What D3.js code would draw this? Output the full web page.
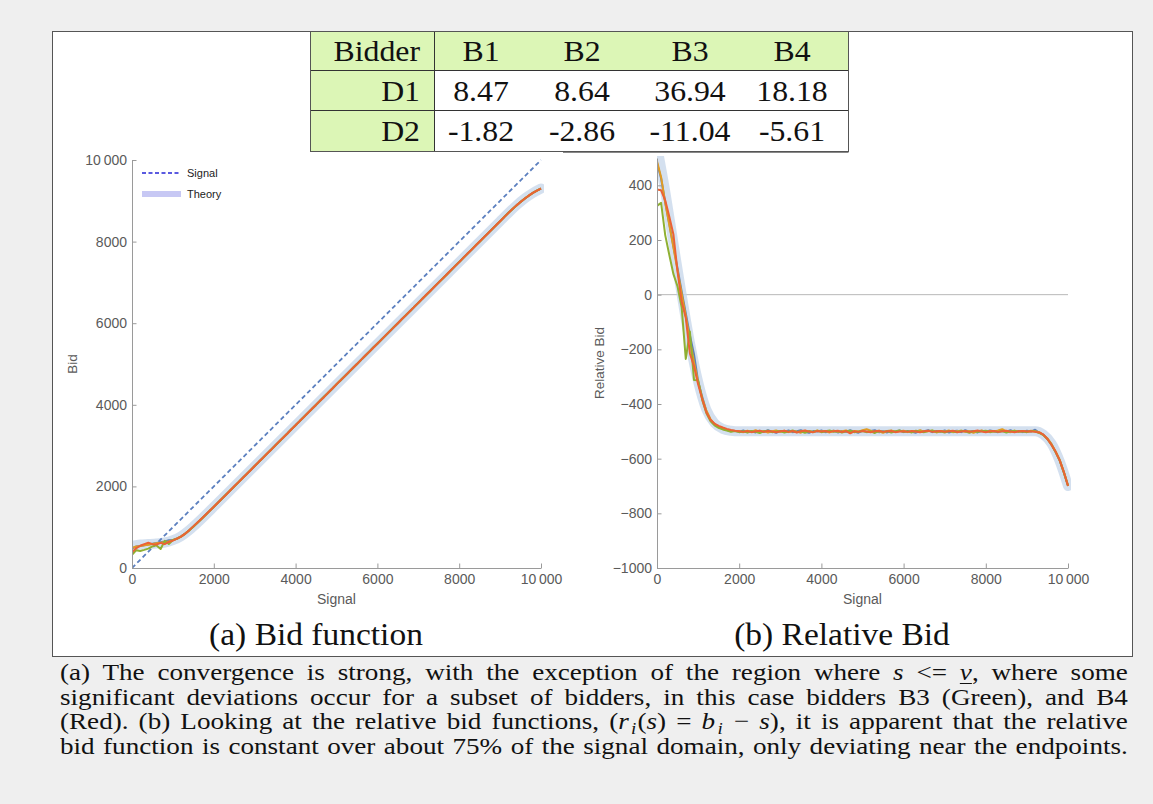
<!DOCTYPE html>
<html>
<head>
<meta charset="utf-8">
<script src="https://cdn.jsdelivr.net/npm/d3@7"></script>
<style>
  body { margin: 0; background: #efefef; width: 1153px; height: 804px; overflow: hidden; position: relative; }
  svg { position: absolute; left: 0; top: 0; }
  #cap { position: absolute; left: 60px; top: 660px; font-family: "Liberation Serif", serif;
         font-size: 24px; line-height: 24.7px; color: #111; }
  #cap div { width: 945px; transform: scaleX(1.13); transform-origin: 0 0;
             text-align: justify; text-align-last: justify; }
  #cap sub { font-size: 0.7em; vertical-align: -0.28em; line-height: 0; margin-left: 2px; margin-right: 1px; }
  #cap u { text-decoration-thickness: 1px; text-underline-offset: 3px; }
</style>
</head>
<body>
<svg id="chart" width="1153" height="804"></svg>
<div id="cap">
  <div>(a) The convergence is strong, with the exception of the region where <i>s</i> &lt;= <i><u>v</u></i>, where some</div>
  <div>significant deviations occur for a subset of bidders, in this case bidders B3 (Green), and B4</div>
  <div>(Red). (b) Looking at the relative bid functions, (<i>r</i><sub><i>i</i></sub>(<i>s</i>) = <i>b</i><sub><i>i</i></sub> &minus; <i>s</i>), it is apparent that the relative</div>
  <div>bid function is constant over about 75% of the signal domain, only deviating near the endpoints.</div>
</div>
<script>
// ---- table values ----
const bidders = ["B1", "B2", "B3", "B4"];
const rowNames = ["D1", "D2"];
const d1Values = ["8.47", "8.64", "36.94", "18.18"];
const d2Values = ["-1.82", "-2.86", "-11.04", "-5.61"];

// ---- signal grid (shared by all bidder series) ----
const signal = [
  0, 100, 200, 300, 400, 500, 600, 700, 800, 900,
  1000, 1100, 1200, 1300, 1400, 1500, 1600, 1700, 1800, 1900,
  2000, 2100, 2200, 2300, 2400, 2500, 2600, 2700, 2800, 2900,
  3000, 3100, 3200, 3300, 3400, 3500, 3600, 3700, 3800, 3900,
  4000, 4100, 4200, 4300, 4400, 4500, 4600, 4700, 4800, 4900,
  5000, 5100, 5200, 5300, 5400, 5500, 5600, 5700, 5800, 5900,
  6000, 6100, 6200, 6300, 6400, 6500, 6600, 6700, 6800, 6900,
  7000, 7100, 7200, 7300, 7400, 7500, 7600, 7700, 7800, 7900,
  8000, 8100, 8200, 8300, 8400, 8500, 8600, 8700, 8800, 8900,
  9000, 9100, 9200, 9300, 9400, 9500, 9600, 9700, 9800, 9900,
  10000
];

// ---- relative bids r_i(s) = b_i - s for each bidder ----
const relB1 = [
  482, 425, 338, 258, 176, 96, 12, -68, -148, -218,
  -316, -374, -426, -457, -474, -484, -490, -494, -497, -499,
  -501, -497, -503, -499, -504, -498, -502, -496, -501, -505,
  -499, -502, -497, -503, -500, -496, -502, -505, -499, -501,
  -497, -503, -500, -498, -504, -499, -502, -496, -501, -505,
  -498, -502, -499, -496, -503, -500, -504, -498, -501, -497,
  -503, -499, -502, -505, -498, -500, -496, -503, -499, -502,
  -497, -504, -500, -498, -503, -496, -501, -499, -504, -498,
  -502, -497, -500, -503, -499, -501, -496, -502, -499, -503,
  -498, -501, -494, -505, -512, -527, -548, -576, -606, -650,
  -698
];
const relB2 = [
  488, 430, 336, 255, 172, 88, 4, -78, -165, -248,
  -318, -378, -424, -455, -474, -485, -491, -495, -498, -499,
  -500, -503, -498, -501, -496, -502, -499, -504, -500, -497,
  -502, -498, -503, -499, -501, -505, -498, -500, -503, -497,
  -501, -499, -504, -498, -502, -500, -497, -503, -499, -501,
  -496, -492, -498, -503, -500, -505, -499, -497, -502, -500,
  -498, -503, -499, -501, -496, -502, -500, -498, -504, -499,
  -501, -497, -503, -500, -498, -502, -499, -505, -500, -497,
  -502, -499, -501, -497, -492, -500, -503, -498, -501, -499,
  -502, -498, -500, -503, -513, -526, -547, -574, -605, -648,
  -697
];
const relB3 = [
  325, 336, 218, 145, 75, 30, -46, -235, -135, -312,
  -313, -385, -433, -462, -478, -487, -493, -497, -502, -499,
  -503, -500, -504, -499, -502, -506, -500, -498, -503, -501,
  -499, -504, -501, -497, -503, -500, -505, -499, -502, -498,
  -503, -500, -497, -502, -499, -504, -500, -498, -503, -501,
  -499, -503, -500, -506, -498, -502, -499, -504, -500, -497,
  -502, -500, -504, -498, -501, -503, -499, -497, -502, -500,
  -504, -499, -501, -503, -498, -500, -505, -499, -502, -500,
  -498, -503, -500, -502, -499, -504, -500, -498, -502, -500,
  -503, -499, -501, -506, -514, -529, -550, -577, -608, -652,
  -700
];
const relB4 = [
  385, 382, 345, 285, 220, 84, -25, -85, -215, -262,
  -328, -382, -430, -458, -472, -480, -486, -491, -495, -498,
  -500, -502, -499, -503, -500, -498, -502, -499, -501, -503,
  -500, -498, -502, -499, -504, -500, -497, -501, -503, -499,
  -501, -499, -502, -500, -498, -503, -499, -507, -500, -502,
  -499, -501, -503, -500, -498, -502, -500, -499, -503, -501,
  -500, -502, -499, -501, -503, -500, -498, -502, -500, -499,
  -502, -500, -498, -503, -501, -499, -502, -500, -497, -501,
  -503, -500, -499, -502, -500, -498, -501, -503, -500, -499,
  -501, -500, -502, -504, -512, -528, -550, -575, -607, -650,
  -700
];

// ---- theoretical relative bid ----
const theorySignal = [0, 200, 400, 600, 800, 1000, 1200, 1400, 1600, 1800, 2000, 9000, 9200, 9400, 9600, 9800, 10000];
const theoryRel    = [545, 378, 188, 0, -175, -318, -420, -470, -491, -498, -500, -500, -500, -512, -545, -610, -700];

// ---- axis ticks ----
const signalTicks = [0, 2000, 4000, 6000, 8000, 10000];
const signalMinor = [500, 1000, 1500, 2500, 3000, 3500, 4500, 5000, 5500, 6500, 7000, 7500, 8500, 9000, 9500];
const bidTicks = [0, 2000, 4000, 6000, 8000, 10000];
const bidMinor = [500, 1000, 1500, 2500, 3000, 3500, 4500, 5000, 5500, 6500, 7000, 7500, 8500, 9000, 9500];
const relTicks = [-1000, -800, -600, -400, -200, 0, 200, 400];
const relMinor = [-950, -900, -850, -750, -700, -650, -550, -500, -450, -350, -300, -250, -150, -100, -50,
                  50, 100, 150, 250, 300, 350, 450, 500];

const series = [
  { name: "B1", rel: relB1, color: "#5e81b5" },
  { name: "B2", rel: relB2, color: "#e19c24" },
  { name: "B3", rel: relB3, color: "#8fb032" },
  { name: "B4", rel: relB4, color: "#eb6235" }
];

const fmt = d => d === 10000 ? "10\u2009000" : (d < 0 ? "\u2212" + Math.abs(d) : String(d));

const svg = d3.select("#chart");
const axisColor = "#9a9a9a";
const labelColor = "#5a5a5a";
const sans = "'Liberation Sans', Arial, sans-serif";
const serif = "'Liberation Serif', 'Times New Roman', serif";

// white panel holding both plots
svg.append("rect").attr("x", 52.5).attr("y", 31.5).attr("width", 1080).attr("height", 625)
  .attr("fill", "#fff").attr("stroke", "#555").attr("stroke-width", 1);

const defs = svg.append("defs");

function styleAxis(g) {
  g.selectAll("path.domain").attr("stroke", axisColor);
  g.selectAll(".tick line").attr("stroke", axisColor);
  g.selectAll(".tick text").attr("fill", labelColor).attr("font-family", sans).attr("font-size", 14);
}

function drawAxes(x, y, yTicks, yMinor, xLabel, yLabel, yLabelX) {
  const [x0, x1] = x.range();
  const [y0, y1] = y.range();
  const gx = svg.append("g").attr("transform", `translate(0,${y0})`);
  gx.call(d3.axisBottom(x).tickValues(signalMinor).tickSize(-2.5).tickFormat(""));
  gx.call(d3.axisBottom(x).tickValues(signalTicks).tickSizeInner(-4.5).tickSizeOuter(0).tickPadding(6).tickFormat(fmt));
  styleAxis(gx);
  const gy = svg.append("g").attr("transform", `translate(${x0},0)`);
  gy.call(d3.axisLeft(y).tickValues(yMinor).tickSize(-2.5).tickFormat(""));
  gy.call(d3.axisLeft(y).tickValues(yTicks).tickSizeInner(-4.5).tickSizeOuter(0).tickPadding(5).tickFormat(fmt));
  styleAxis(gy);
  svg.append("text").attr("x", (x0 + x1) / 2).attr("y", y0 + 36).attr("text-anchor", "middle")
    .attr("font-family", sans).attr("font-size", 14).attr("fill", labelColor).text(xLabel);
  svg.append("text").attr("transform", `translate(${yLabelX},${(y0 + y1) / 2}) rotate(-90)`)
    .attr("text-anchor", "middle").attr("font-family", sans).attr("font-size", 13.5)
    .attr("fill", labelColor).text(yLabel);
}

function clipFor(id, x, y) {
  const [x0, x1] = x.range();
  const [y0, y1] = y.range();
  defs.append("clipPath").attr("id", id).append("rect")
    .attr("x", x0).attr("y", y1 - 2).attr("width", x1 - x0 + 3).attr("height", y0 - y1 + 2);
  return `url(#${id})`;
}

// ================= (a) Bid function =================
const xL = d3.scaleLinear().domain([0, 10000]).range([132, 541]);
const yL = d3.scaleLinear().domain([0, 10000]).range([568, 160]);
const plotL = svg.append("g").attr("clip-path", clipFor("clipL", xL, yL));

plotL.append("path").datum(theorySignal)
  .attr("d", d3.line().curve(d3.curveMonotoneX).x(d => xL(d)).y((d, i) => yL(d + theoryRel[i])))
  .attr("fill", "none").attr("stroke", "#c6d5ea").attr("stroke-opacity", 0.75)
  .attr("stroke-width", 10).attr("stroke-linecap", "round");

plotL.append("path").datum([0, 10000])
  .attr("d", d3.line().x(d => xL(d)).y(d => yL(d)))
  .attr("fill", "none").attr("stroke", "#5b7fbf").attr("stroke-width", 1.8)
  .attr("stroke-dasharray", "4.5,3");

series.forEach(s => {
  plotL.append("path").datum(s.rel)
    .attr("d", d3.line().x((d, i) => xL(signal[i])).y((d, i) => yL(signal[i] + d)))
    .attr("fill", "none").attr("stroke", s.color).attr("stroke-width", 2)
    .attr("stroke-linejoin", "round");
});

drawAxes(xL, yL, bidTicks, bidMinor, "Signal", "Bid", 77);

// legend
const lg = svg.append("g");
lg.append("line").attr("x1", 142).attr("x2", 181).attr("y1", 173).attr("y2", 173)
  .attr("stroke", "#2424d6").attr("stroke-width", 1.6).attr("stroke-dasharray", "4,2.5");
lg.append("line").attr("x1", 142).attr("x2", 181).attr("y1", 194).attr("y2", 194)
  .attr("stroke", "#c7c8f4").attr("stroke-width", 6);
lg.selectAll("text").data(["Signal", "Theory"]).join("text")
  .attr("x", 187).attr("y", (d, i) => 177 + i * 21)
  .attr("font-family", sans).attr("font-size", 11).attr("fill", "#222").text(d => d);

// ================= (b) Relative Bid =================
const xR = d3.scaleLinear().domain([0, 10000]).range([657, 1068]);
const yR = d3.scaleLinear().domain([-1000, 500]).range([568, 158]);

svg.append("line").attr("x1", xR(0)).attr("x2", xR(10000)).attr("y1", yR(0)).attr("y2", yR(0))
  .attr("stroke", "#b8b8b8").attr("stroke-width", 1);

const plotR = svg.append("g").attr("clip-path", clipFor("clipR", xR, yR));

plotR.append("path").datum(theorySignal)
  .attr("d", d3.line().curve(d3.curveMonotoneX).x(d => xR(d)).y((d, i) => yR(theoryRel[i])))
  .attr("fill", "none").attr("stroke", "#c6d5ea").attr("stroke-opacity", 0.75)
  .attr("stroke-width", 10).attr("stroke-linecap", "round");

series.forEach(s => {
  plotR.append("path").datum(s.rel)
    .attr("d", d3.line().x((d, i) => xR(signal[i])).y(d => yR(d)))
    .attr("fill", "none").attr("stroke", s.color).attr("stroke-width", 2)
    .attr("stroke-linejoin", "round");
});

drawAxes(xR, yR, relTicks, relMinor, "Signal", "Relative Bid", 604);

// sub-captions (serif, slightly widened)
const wideText = (g, x, y, anchor, size, sx, t) => g.append("text")
  .attr("transform", `translate(${x},${y}) scale(${sx},1)`)
  .attr("text-anchor", anchor).attr("font-family", serif).attr("font-size", size).attr("fill", "#111").text(t);
wideText(svg, 316, 645, "middle", 31, 1.08, "(a) Bid function");
wideText(svg, 842, 645, "middle", 31, 1.08, "(b) Relative Bid");

// ================= table =================
const tX = [310.5, 434.5, 848.5];
const tY = [31.5, 70.5, 110.5, 151.5];
const colCenters = [481, 582, 690, 792];
const green = "#dcf6b6";
const tg = svg.append("g");
tg.append("rect").attr("x", tX[0]).attr("y", tY[0]).attr("width", tX[2] - tX[0]).attr("height", tY[3] - tY[0])
  .attr("fill", "#fff");
tg.append("rect").attr("x", tX[0]).attr("y", tY[0]).attr("width", tX[2] - tX[0]).attr("height", tY[1] - tY[0])
  .attr("fill", green);
tg.append("rect").attr("x", tX[0]).attr("y", tY[1]).attr("width", tX[1] - tX[0]).attr("height", tY[3] - tY[1])
  .attr("fill", green);
[tY[1], tY[2]].forEach(y => tg.append("line").attr("x1", tX[0]).attr("x2", tX[2]).attr("y1", y).attr("y2", y)
  .attr("stroke", "#333").attr("stroke-width", 1));
tg.append("line").attr("x1", tX[1]).attr("x2", tX[1]).attr("y1", tY[0]).attr("y2", tY[3])
  .attr("stroke", "#333").attr("stroke-width", 1);
tg.append("rect").attr("x", tX[0]).attr("y", tY[0]).attr("width", tX[2] - tX[0]).attr("height", tY[3] - tY[0])
  .attr("fill", "none").attr("stroke", "#555").attr("stroke-width", 1);
tg.append("line").attr("x1", 563).attr("x2", tX[2]).attr("y1", 152.5).attr("y2", 152.5)
  .attr("stroke", "#888").attr("stroke-width", 1);

const cellText = (x, y, anchor, t) => wideText(tg, x, y, anchor, 30, 1.06, t);
cellText(420, 61, "end", "Bidder");
bidders.forEach((b, i) => cellText(colCenters[i], 61, "middle", b));
cellText(420, 100.5, "end", rowNames[0]);
cellText(420, 141, "end", rowNames[1]);
d1Values.forEach((v, i) => cellText(colCenters[i], 100.5, "middle", v));
d2Values.forEach((v, i) => cellText(colCenters[i], 141, "middle", v));
</script>
</body>
</html>
